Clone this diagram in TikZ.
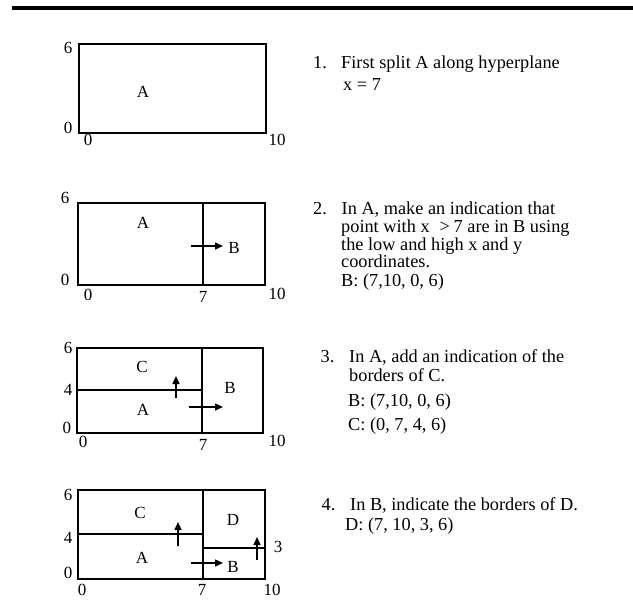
\documentclass[tikz,border=0pt]{standalone}
\usepackage{fontspec}
\setmainfont{Liberation Serif}
\usetikzlibrary{arrows.meta}
\newcommand\lblfont{\fontsize{17}{20}\selectfont}
\newcommand\txtfont{\fontsize{18.3}{20}\selectfont}
\begin{document}
\begin{tikzpicture}[x=1pt,y=-1pt,
  frame/.style={line width=1.4pt},
  splitline/.style={line width=1.8pt},
  ptr/.style={line width=1.5pt,-{Triangle[length=8pt,width=7pt]}},
  lbl/.style={font=\lblfont,inner sep=0pt},
  txt/.style={font=\txtfont,anchor=base west,inner sep=0pt}]
\useasboundingbox (0,0) rectangle (633,600);
% top rule
\fill (12,5.5) rectangle (633,9.5);

% ---------- panel 1 ----------
\draw[frame] (79,44) rectangle (266,133);
\node[lbl] (p1six) at (68,48) {6};
\node[lbl] (p1zl) at (68,128) {0};
\node[lbl] (p1zb) at (88,140) {0};
\node[lbl] (p1ten) at (277,140) {10};
\node[lbl] (p1A) at (143,92) {A};
\node[txt] (t1n) at (313,68) {1.};
\node[txt] (t1a) at (341,68) {First split A along hyperplane};
\node[txt] (t1b) at (343,90) {x = 7};

% ---------- panel 2 ----------
\draw[frame] (78,203) rectangle (265,285);
\draw[splitline] (203,203) -- (203,285);
\coordinate (p2s) at (191,246);
\coordinate (p2e) at (223,246);
\draw[ptr] (p2s) -- (p2e);
\node[lbl] (p2six) at (65,198) {6};
\node[lbl] (p2zl) at (65,280) {0};
\node[lbl] (p2zb) at (88,295) {0};
\node[lbl] (p2sev) at (203,297) {7};
\node[lbl] (p2ten) at (277,294) {10};
\node[lbl] (p2A) at (143,223) {A};
\node[lbl] (p2B) at (234,248) {B};
\node[txt] (t2n) at (313,214.5) {2.};
\node[txt] (t2a) at (341.5,214.5) {In A, make an indication that};
\node[txt] (t2b) at (341,232) {point with x\hspace{0.55em}>\hspace{0.2em}7 are in B using};
\node[txt] (t2c) at (341,250) {the low and high x and y};
\node[txt] (t2d) at (341,267.5) {coordinates.};
\node[txt] (t2e) at (341,286) {B: (7,10, 0, 6)};

% ---------- panel 3 ----------
\draw[frame] (77,348) rectangle (263,433);
\draw[splitline] (202,348) -- (202,433);
\draw[splitline] (77,390) -- (202,390);
\coordinate (p3us) at (176,398);
\coordinate (p3ue) at (176,376);
\draw[ptr] (p3us) -- (p3ue);
\coordinate (p3rs) at (189,407);
\coordinate (p3re) at (223,407);
\draw[ptr] (p3rs) -- (p3re);
\node[lbl] (p3six) at (68,348) {6};
\node[lbl] (p3four) at (68,390) {4};
\node[lbl] (p3zl) at (67,428) {0};
\node[lbl] (p3zb) at (83,442) {0};
\node[lbl] (p3sev) at (203,445) {7};
\node[lbl] (p3ten) at (277,441) {10};
\node[lbl] (p3C) at (142,367) {C};
\node[lbl] (p3A) at (143,410) {A};
\node[lbl] (p3B) at (230,388) {B};
\node[txt] (t3n) at (320.5,362.7) {3.};
\node[txt] (t3a) at (349,362.7) {In A, add an indication of the};
\node[txt] (t3b) at (349,381.7) {borders of C.};
\node[txt] (t3c) at (348,406.7) {B: (7,10, 0, 6)};
\node[txt] (t3d) at (348,430) {C: (0, 7, 4, 6)};

% ---------- panel 4 ----------
\draw[frame] (78,490) rectangle (265,579);
\draw[splitline] (203,490) -- (203,579);
\draw[splitline] (78,534) -- (203,534);
\draw[splitline] (203,548) -- (266,548);
\coordinate (p4us) at (178,546);
\coordinate (p4ue) at (178,522);
\draw[ptr] (p4us) -- (p4ue);
\coordinate (p4ds) at (257,560);
\coordinate (p4de) at (257,537);
\draw[ptr] (p4ds) -- (p4de);
\coordinate (p4rs) at (191,563);
\coordinate (p4re) at (223,563);
\draw[ptr] (p4rs) -- (p4re);
\node[lbl] (p4six) at (68,495) {6};
\node[lbl] (p4four) at (68,538) {4};
\node[lbl] (p4zl) at (68,573) {0};
\node[lbl] (p4zb) at (82,590) {0};
\node[lbl] (p4sev) at (202,590) {7};
\node[lbl] (p4ten) at (272,590) {10};
\node[lbl] (p4three) at (278,547) {3};
\node[lbl] (p4C) at (140,513) {C};
\node[lbl] (p4D) at (233,520) {D};
\node[lbl] (p4A) at (142,558) {A};
\node[lbl] (p4B) at (233,567) {B};
\node[txt] (t4n) at (321.5,510) {4.};
\node[txt] (t4a) at (350,510) {In B, indicate the borders of D.};
\node[txt] (t4b) at (345,530) {D: (7, 10, 3, 6)};
\end{tikzpicture}
\end{document}
